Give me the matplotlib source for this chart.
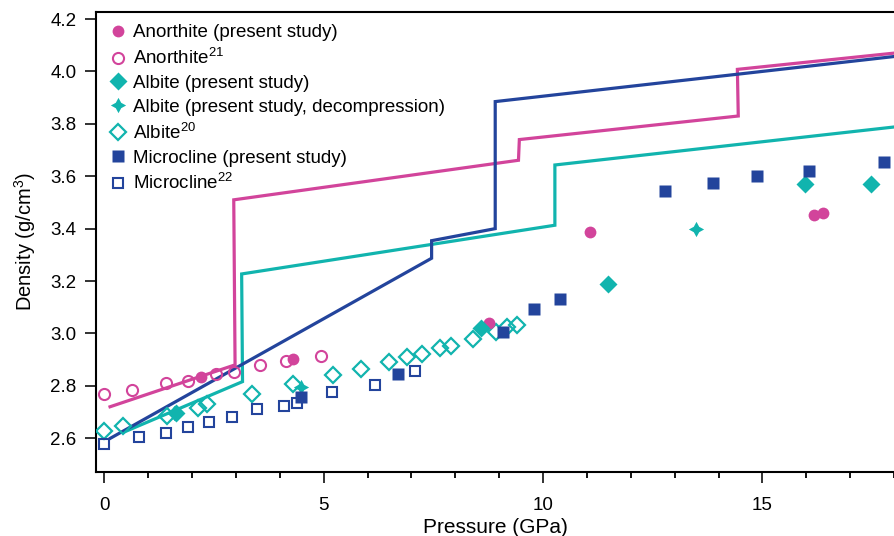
import matplotlib
matplotlib.use("Agg")
import matplotlib.pyplot as plt

plt.rcParams['font.family'] = ['Liberation Sans', 'DejaVu Sans']
plt.rcParams['mathtext.fontset'] = 'custom'
plt.rcParams['mathtext.rm'] = 'Liberation Sans'
plt.rcParams['mathtext.it'] = 'Liberation Sans:italic'
plt.rcParams['mathtext.bf'] = 'Liberation Sans:bold'

# colours
pink = '#d2449b'
teal = '#11b4ae'
navy = '#23449c'

# Anorthite (present study)
an_p = [2.20, 4.29, 8.77, 11.07, 16.17, 16.38]
an_d = [2.834, 2.903, 3.040, 3.387, 3.452, 3.459]

# Anorthite, ref 21
an21_p = [0.0, 0.64, 1.40, 1.90, 2.54, 2.95, 3.55, 4.14, 4.94]
an21_d = [2.769, 2.783, 2.812, 2.820, 2.844, 2.854, 2.879, 2.895, 2.913]

# Albite (present study)
ab_p = [1.63, 8.59, 11.48, 15.97, 17.47]
ab_d = [2.695, 3.020, 3.190, 3.569, 3.571]

# Albite (present study, decompression)
abdc_p = [1.58, 4.49, 13.48]
abdc_d = [2.697, 2.797, 3.400]

# Albite, ref 20
ab20_p = [0.0, 0.43, 1.43, 2.14, 2.35, 3.36, 4.31, 5.22, 5.85, 6.48, 6.91,
          7.24, 7.64, 7.90, 8.40, 8.93, 9.17, 9.41]
ab20_d = [2.628, 2.647, 2.686, 2.717, 2.730, 2.768, 2.806, 2.840, 2.863,
          2.891, 2.909, 2.922, 2.943, 2.952, 2.979, 3.007, 3.024, 3.032]

# Microcline (present study)
mc_p = [4.49, 6.69, 9.08, 9.79, 10.38, 12.78, 13.88, 14.88, 16.07, 17.78]
mc_d = [2.756, 2.844, 3.007, 3.095, 3.132, 3.544, 3.573, 3.600, 3.619, 3.653]

# Microcline, ref 22
mc22_p = [0.0, 0.79, 1.40, 1.90, 2.39, 2.90, 3.49, 4.09, 4.40, 5.20, 6.18, 7.08]
mc22_d = [2.577, 2.604, 2.621, 2.642, 2.662, 2.680, 2.712, 2.724, 2.734,
          2.778, 2.805, 2.858]

# model curves (step-wise)
an_line_p = [0.13, 2.98, 2.95, 9.44, 9.46, 14.45, 14.43, 18.0]
an_line_d = [2.720, 2.880, 3.510, 3.661, 3.740, 3.830, 4.008, 4.070]

ab_line_p = [0.47, 3.15, 3.13, 10.27, 10.27, 18.0]
ab_line_d = [2.625, 2.816, 3.227, 3.413, 3.643, 3.788]

mc_line_p = [0.14, 7.46, 7.46, 8.91, 8.91, 18.0]
mc_line_d = [2.600, 3.287, 3.354, 3.400, 3.885, 4.057]

fig = plt.figure(figsize=(8.94, 5.36), dpi=100)
ax = fig.add_axes([96 / 894, 1 - 472 / 536, 1 - 96 / 894, (472 - 12) / 536])

lw = 2.3
ax.plot(an_line_p, an_line_d, color=pink, lw=lw, solid_joinstyle='miter', zorder=2)
ax.plot(ab_line_p, ab_line_d, color=teal, lw=lw, solid_joinstyle='miter', zorder=2)
ax.plot(mc_line_p, mc_line_d, color=navy, lw=lw, solid_joinstyle='miter', zorder=2)

ax.plot(an_p, an_d, 'o', color=pink, ms=8.5, mec='none', ls='none',
        label='Anorthite (present study)', zorder=4)
ax.plot(an21_p, an21_d, 'o', mfc='none', mec=pink, mew=1.5, ms=8, ls='none',
        label='Anorthite$^{21}$', zorder=3)
ax.plot(ab_p, ab_d, 'D', color=teal, ms=9, mec='none', ls='none',
        label='Albite (present study)', zorder=4)
ax.plot(abdc_p, abdc_d, marker=(4, 1, 0), color=teal, ms=11, mec='none', ls='none',
        label='Albite (present study, decompression)', zorder=3.5)
ax.plot(ab20_p, ab20_d, 'D', mfc='none', mec=teal, mew=1.6, ms=8, ls='none',
        label='Albite$^{20}$', zorder=3)
ax.plot(mc_p, mc_d, 's', color=navy, ms=9, mec='none', ls='none',
        label='Microcline (present study)', zorder=4)
ax.plot(mc22_p, mc22_d, 's', mfc='none', mec=navy, mew=1.5, ms=7.5, ls='none',
        label='Microcline$^{22}$', zorder=3)

ax.set_xlim(-0.19, 18.0)
ax.set_ylim(2.471, 4.227)
ax.set_xticks([0, 5, 10, 15])
ax.set_xticks(range(0, 19), minor=True)
ax.set_yticks([2.6, 2.8, 3.0, 3.2, 3.4, 3.6, 3.8, 4.0, 4.2])
ax.set_yticklabels(['2.6', '2.8', '3.0', '3.2', '3.4', '3.6', '3.8', '4.0', '4.2'])

for s in ['left', 'bottom', 'top']:
    ax.spines[s].set_linewidth(1.5)
ax.spines['right'].set_visible(False)
ax.tick_params(axis='both', which='major', direction='out', length=8, width=1.3,
               labelsize=13.5, color='#222222')
ax.tick_params(axis='x', which='minor', direction='out', length=4.5, width=1.3)
ax.tick_params(axis='x', which='major', pad=10)
ax.tick_params(axis='y', which='major', pad=6)

ax.set_xlabel('Pressure (GPa)', fontsize=15, labelpad=3)
ax.set_ylabel('Density (g/cm$^3$)', fontsize=14.5, labelpad=9)

ax.legend(loc='upper left', frameon=False, fontsize=13.5, handlelength=1.0,
          handletextpad=0.3, labelspacing=0.36, borderaxespad=0.25,
          bbox_to_anchor=(0.0, 1.0))

fig.savefig('out.png', dpi=100)
